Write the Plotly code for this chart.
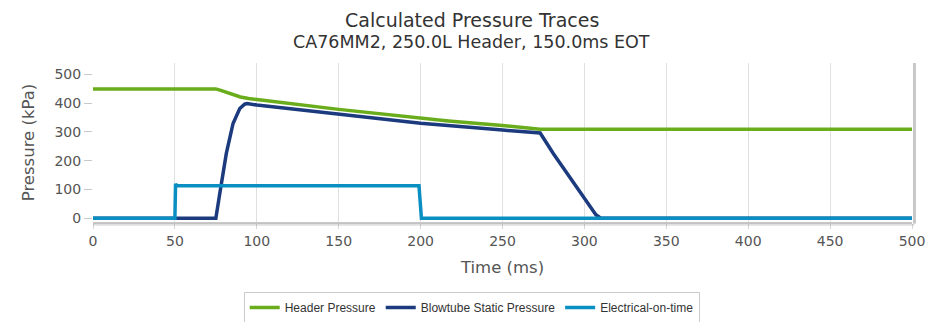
import plotly.graph_objects as go

# Data
header_t = [0, 75, 78, 82, 86, 90, 95, 100, 150, 200, 217, 250, 273, 500]
header_p = [449, 449, 444, 436, 428, 421, 416, 412, 378, 347, 338, 322, 309, 309]

blow_t = [0, 75, 77.4, 81.4, 85.5, 89.6, 92.6, 94, 100, 150, 200, 250, 273,
          281, 289, 297, 303, 307, 310, 500]
blow_p = [0, 0, 86, 225, 329, 381, 396, 398, 393, 361, 330, 306, 296,
          225, 161, 97, 45, 12, 0, 0]

elec_t = [0, 50, 50.4, 51, 199, 200.5, 500]
elec_p = [0, 0, 120, 113, 113, 0, 0]

x_ticks = [0, 50, 100, 150, 200, 250, 300, 350, 400, 450, 500]
y_ticks = [0, 100, 200, 300, 400, 500]

title_text = "Calculated Pressure Traces"
subtitle_text = "CA76MM2, 250.0L Header, 150.0ms EOT"

fig = go.Figure()
fig.add_trace(go.Scatter(x=header_t, y=header_p, mode="lines", name="Header Pressure",
                         line=dict(color="#6aad1c", width=3.5)))
fig.add_trace(go.Scatter(x=blow_t, y=blow_p, mode="lines", name="Blowtube Static Pressure",
                         line=dict(color="#1c3a7e", width=3.5)))
fig.add_trace(go.Scatter(x=elec_t, y=elec_p, mode="lines", name="Electrical-on-time",
                         line=dict(color="#0a8fc2", width=3.5)))

fig.update_layout(
    width=928, height=314,
    margin=dict(l=85, r=24, t=55, b=100, autoexpand=False),
    paper_bgcolor="white", plot_bgcolor="white",
    font=dict(family="DejaVu Sans", color="#555555"),
    xaxis=dict(
        range=[0, 500], tickvals=x_ticks, showgrid=True, gridcolor="#e0e0e0", gridwidth=1,
        zeroline=False, showline=True, linecolor="#c8c8c8", linewidth=2,
        ticks="outside", ticklen=5, tickcolor="#d8d8d8",
        tickfont=dict(size=14, color="#555555"),
        title=dict(text="Time (ms)", font=dict(size=16.5, color="#555555"), standoff=14),
    ),
    yaxis=dict(
        range=[-13, 539], tickvals=y_ticks, showgrid=False, zeroline=False,
        ticks="outside", ticklen=8, tickcolor="#c8c8c8",
        tickfont=dict(size=14, color="#555555"),
        title=dict(text="Pressure (kPa)", font=dict(size=16.5, color="#555555"), standoff=15),
    ),
    legend=dict(
        orientation="h", x=0.4624, xanchor="center", y=-0.44, yanchor="top",
        bordercolor="#cccccc", borderwidth=1, bgcolor="white",
        font=dict(family="Liberation Sans", size=12, color="#333333"),
    ),
    annotations=[
        dict(text=title_text, xref="paper", yref="paper", x=0.4624, y=1.27,
             xanchor="center", yanchor="middle", showarrow=False,
             font=dict(family="DejaVu Sans", size=19, color="#333333")),
        dict(text=subtitle_text, xref="paper", yref="paper", x=0.4624, y=1.135,
             xanchor="center", yanchor="middle", showarrow=False,
             font=dict(family="DejaVu Sans", size=17.5, color="#333333")),
    ],
    shapes=[
        dict(type="line", xref="paper", yref="paper", x0=1.003, x1=1.003, y0=-0.01, y1=1,
             line=dict(color="rgba(0,0,0,0.22)", width=3)),
        dict(type="line", xref="paper", yref="paper", x0=0, x1=1.003, y0=-0.018, y1=-0.018,
             line=dict(color="rgba(0,0,0,0.12)", width=2)),
    ],
)

fig.write_html("out.html")
